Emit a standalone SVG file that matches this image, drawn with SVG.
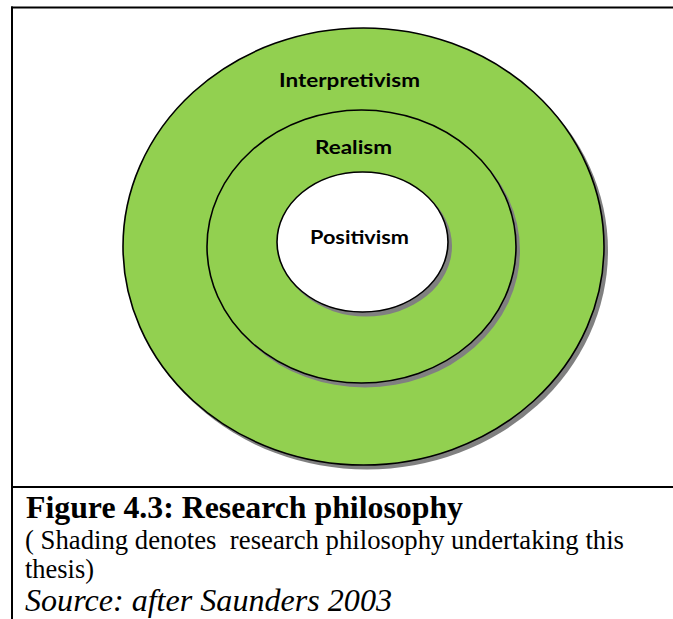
<svg xmlns="http://www.w3.org/2000/svg" width="673" height="619" viewBox="0 0 673 619">
  <style>
    .frame { stroke: #000; stroke-width: 2; fill: none; }
    .shadow { fill: #808080; stroke: none; }
    .ring { fill: #92D050; stroke: #000; stroke-width: 1.6; }
    .core { fill: #FFFFFF; stroke: #000; stroke-width: 1.6; }
    .lbl { font-family: Lato, "Open Sans", "Liberation Sans", sans-serif; font-weight: 700; font-size: 19px; fill: #000; text-anchor: middle; }
  </style>
  <rect width="673" height="619" fill="#FFFFFF"/>
  <g id="frame">
    <line class="frame" x1="11" y1="7.5" x2="673" y2="7.5"/>
    <line class="frame" x1="12" y1="6.5" x2="12" y2="619"/>
    <line class="frame" x1="11" y1="487" x2="673" y2="487"/>
  </g>
  <g id="connectors"></g>
  <g id="interpretivism">
    <ellipse class="shadow" cx="367" cy="250.5" rx="241" ry="219"/>
    <ellipse class="ring" cx="363.5" cy="246.5" rx="240.5" ry="218.5"/>
    <text class="lbl" x="349.5" y="87" textLength="141" lengthAdjust="spacingAndGlyphs">Interpretivism</text>
  </g>
  <g id="realism">
    <ellipse class="shadow" cx="365" cy="250.5" rx="155" ry="137"/>
    <ellipse class="ring" cx="361.5" cy="246.5" rx="154.5" ry="136.5"/>
    <text class="lbl" x="353.5" y="154" textLength="77" lengthAdjust="spacingAndGlyphs">Realism</text>
  </g>
  <g id="positivism">
    <ellipse class="shadow" cx="366" cy="246" rx="86" ry="70.5"/>
    <ellipse class="core" cx="362.5" cy="242" rx="85.5" ry="70"/>
    <text class="lbl" x="359.5" y="244" textLength="99" lengthAdjust="spacingAndGlyphs">Positivism</text>
  </g>
  <g id="caption" font-family="Liberation Serif, 'Times New Roman', serif" fill="#000">
    <text x="26" y="518" font-size="31.5" font-weight="700" textLength="437" lengthAdjust="spacingAndGlyphs">Figure 4.3: Research philosophy</text>
    <text x="25" y="549" font-size="26.7" textLength="599" lengthAdjust="spacingAndGlyphs" xml:space="preserve">( Shading denotes  research philosophy undertaking this</text>
    <text x="25" y="578" font-size="26.7" textLength="69" lengthAdjust="spacingAndGlyphs">thesis)</text>
    <text x="25" y="611" font-size="31" font-style="italic" textLength="367" lengthAdjust="spacingAndGlyphs">Source: after Saunders 2003</text>
  </g>
</svg>
